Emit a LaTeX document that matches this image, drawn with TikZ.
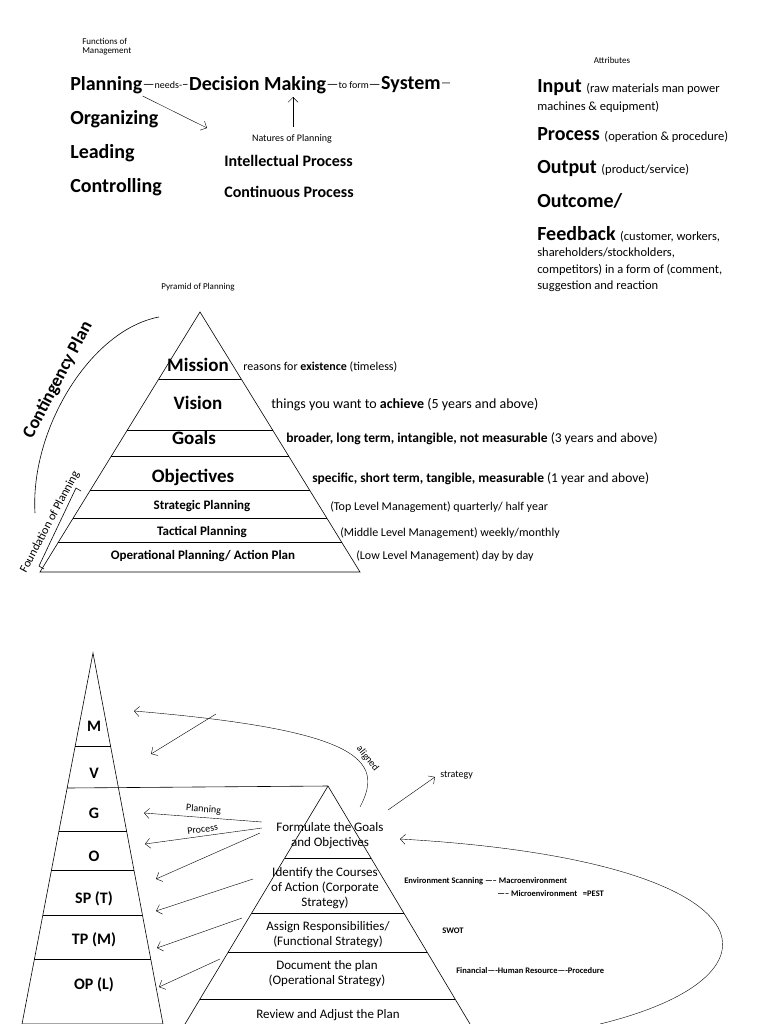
\documentclass[tikz,border=0pt]{standalone}
\usepackage{fontspec}
\setmainfont{Carlito}
\usetikzlibrary{positioning,arrows.meta}

\newcommand{\fsz}[1]{\fontsize{#1}{#1}\selectfont}

\tikzset{
  lbl/.style={inner sep=0pt, anchor=west},
  mid/.style={inner sep=0pt},
  big/.style={font=\bfseries\fsz{20}},
  tiny/.style={font=\fsz{9}},
  note/.style={font=\fsz{12.5}},
  stepbox/.style={font=\fsz{13}, align=center, inner sep=0pt},
  arr/.style={-{Straight Barb[length=5pt]}, thin},
}

\begin{document}
\begin{tikzpicture}[x=1pt, y=-1pt, line width=0.6pt]
\useasboundingbox (0,0) rectangle (768,1024);

% functions of management
\node[lbl, tiny, align=left] (fom) at (82,47) {Functions of\\Management};
\node[lbl, big] (plan) at (70,85) {Planning};
\node[lbl, big] (org) at (70,119) {Organizing};
\node[lbl, big] (lead) at (70,153) {Leading};
\node[lbl, big] (ctrl) at (70,187) {Controlling};
\node[lbl, right=0pt of plan, font=\fsz{13}] (needs) {---\fsz{10}needs-\fsz{13}--};
\node[lbl, big, right=0pt of needs] (dm) {Decision Making};
\node[lbl, right=0pt of dm, font=\fsz{13}] (toform) {---\fsz{10}to form\fsz{13}---};
\node[lbl, big, right=0pt of toform] (sys) {System};
\node[lbl, right=0pt of sys, font=\fsz{11}] (dash) {---};

% natures of planning
\node[mid, font=\fsz{10}] (nat) at (292,139) {Natures of Planning};
\node[lbl, font=\bfseries\fsz{16}] (intel) at (224,161) {Intellectual Process};
\node[lbl, font=\bfseries\fsz{16}] (cont) at (224,192) {Continuous Process};
\draw[arr] (plan.south east) ++(0,2) -- (207,128);
\draw[arr] (293,127) -- (293,97);

% attributes
\node[mid, tiny] (attr) at (612,60) {Attributes};
\node[lbl, big] (inp) at (537,88) {Input \fsz{12.5}\mdseries(raw materials man power};
\node[lbl, note] (inp2) at (537,107) {machines \& equipment)};
\node[lbl, big] (proc) at (537,135) {Process \fsz{12.5}\mdseries(operation \& procedure)};
\node[lbl, big] (outp) at (537,169) {Output \fsz{12.5}\mdseries(product/service)};
\node[lbl, big] (outc) at (537,201) {Outcome/};
\node[lbl, big] (feed) at (537,234) {Feedback \fsz{12.5}\mdseries(customer, workers,};
\node[lbl, note, align=left] (feed2) at (537,270) {shareholders/stockholders,\\[4pt]competitors) in a form of (comment,\\[4pt]suggestion and reaction};

% pyramid of planning
\node[mid, tiny] (pop) at (198,287) {Pyramid of Planning};
\draw (200,312) -- (40,572) -- (360,572) -- cycle;
\foreach \y in {379,430,456,490,518,542} {
  \pgfmathsetmacro\d{(160/260)*(\y-312)}
  \draw (200-\d,\y) -- (200+\d,\y);
}
\node[mid, font=\bfseries\fsz{19}] (mis) at (198,365) {Mission};
\node[mid, font=\bfseries\fsz{19}] (vis) at (198,403) {Vision};
\node[mid, font=\bfseries\fsz{19}] (goa) at (194,438) {Goals};
\node[mid, font=\bfseries\fsz{19}] (obj) at (193,477) {Objectives};
\node[mid, font=\bfseries\fsz{13}] (stp) at (202,506) {Strategic Planning};
\node[mid, font=\bfseries\fsz{13}] (tcp) at (202,532) {Tactical Planning};
\node[mid, font=\bfseries\fsz{13}] (opp) at (203,556) {Operational Planning/ Action Plan};
\node[lbl, font=\fsz{12}] (misn) at (243,367) {reasons for \textbf{existence} (timeless)};
\node[lbl, font=\fsz{14}] (visn) at (271,405) {things you want to \textbf{achieve} (5 years and above)};
\node[lbl, font=\fsz{13.5}] (goan) at (286,439) {\textbf{broader, long term, intangible, not measurable} (3 years and above)};
\node[lbl, font=\fsz{13.5}] (objn) at (312,479) {\textbf{specific, short term, tangible, measurable} (1 year and above)};
\node[lbl, font=\fsz{12}] (stpn) at (330,507) {(Top Level Management) quarterly/ half year};
\node[lbl, font=\fsz{12}] (tcpn) at (340,533) {(Middle Level Management) weekly/monthly};
\node[lbl, font=\fsz{12}] (oppn) at (356,556) {(Low Level Management) day by day};
\node[mid, rotate=62, font=\bfseries\fsz{18}] (cp) at (58,380) {Contingency Plan};
\draw (159,317) .. controls (90,330) and (30,430) .. (35,513);
\node[mid, rotate=62, font=\fsz{12}] (fop) at (50,522) {Foundation of Planning};
\draw (81,491) -- (76,488) -- (39,566) -- (44,569);

% planning process
\draw (93,653) -- (22,1024) -- (163,1024) -- cycle;
\foreach \y in {746,831,870,915,959} {
  \pgfmathsetmacro\xl{93-(71/371)*(\y-653)}
  \pgfmathsetmacro\xr{93+(70/371)*(\y-653)}
  \draw (\xl,\y) -- (\xr,\y);
}
\draw (67,788) -- (328,786);
\foreach \t/\y [count=\i] in {M/726,V/773,G/813,O/856,SP (T)/899,TP (M)/940,OP (L)/985}
  \node[mid, font=\bfseries\fsz{16}] (lv\i) at (94,\y) {\t};
\draw (328,786) -- (185,1024) (328,786) -- (470,1024);
\foreach \y in {858,913,952,999} {
  \pgfmathsetmacro\xl{328-(143/238)*(\y-786)}
  \pgfmathsetmacro\xr{328+(142/238)*(\y-786)}
  \draw (\xl,\y) -- (\xr,\y);
}
\node[stepbox] (form) at (330,836) {Formulate the Goals\\[2pt]and Objectives};
\node[stepbox] (iden) at (325,888) {Identify the Courses\\[2pt]of Action (Corporate\\[2pt]Strategy)};
\node[stepbox] (asgn) at (328,935) {Assign Responsibilities/\\[2pt](Functional Strategy)};
\node[stepbox] (docu) at (327,974) {Document the plan\\[2pt](Operational Strategy)};
\node[stepbox] (revw) at (328,1015) {Review and Adjust the Plan};

\coordinate (fa) at (262,822);
\draw[arr] (fa) -- (144,813) node[midway, above, sloped, font=\fsz{10}] {Planning};
\draw[arr] (262,828) -- (145,844) node[midway, above, sloped, font=\fsz{10}] {Process};
\draw[arr] (260,833) -- (156,879);
\draw[arr] (253,879) -- (156,911);
\draw[arr] (242,918) -- (157,948);
\draw[arr] (220,959) -- (159,987);

\draw[arr] (360,807) .. controls (385,760) and (360,730) .. (134,711)
  node[pos=0.35, above, sloped, font=\fsz{10}] {aligned};
\draw[arr] (216,714) -- (151,754);
\draw[arr] (388,810) -- (435,777);
\node[lbl, font=\fsz{10}] (strat) at (440,775) {strategy};
\draw[arr] (600,1024) .. controls (800,975) and (770,860) .. (400,839);

\node[lbl, font=\bfseries\fsz{8.5}] (env) at (404,881) {Environment Scanning ----- Macroenvironment};
\node[lbl, font=\bfseries\fsz{8.5}] (mic) at (497,894) {----- Microenvironment \ \ =PEST};
\node[lbl, font=\bfseries\fsz{8.5}] (swot) at (442,931) {SWOT};
\node[lbl, font=\bfseries\fsz{8.5}] (fin) at (456,971) {Financial----Human Resource----Procedure};
\end{tikzpicture}
\end{document}
